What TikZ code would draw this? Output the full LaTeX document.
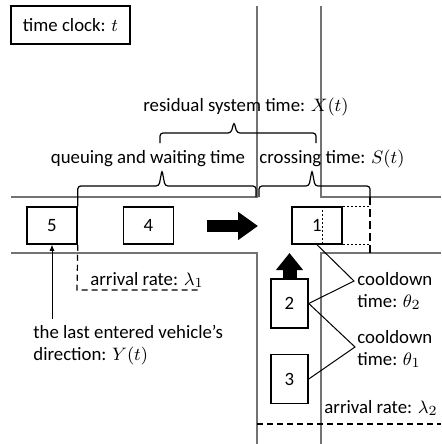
\documentclass[tikz,border=0pt]{standalone}
\usepackage{fontspec}
\setmainfont{Carlito}
\usetikzlibrary{calc, positioning, arrows.meta}

\begin{document}
\begin{tikzpicture}[x=0.5pt, y=-0.5pt, >=Stealth, node distance=22.5pt, every node/.style={font=\fontsize{9.4}{11}\selectfont, inner sep=0pt}]
  \tikzset{car/.style={draw, line width=0.75pt, minimum width=25pt, minimum height=18.5pt},
    carv/.style={car, minimum width=18.5pt, minimum height=24.5pt},
    road/.style={draw=black!55, line width=1pt},
    brace/.style={line width=0.6pt, rounded corners=1.5pt},
    rate/.style={line width=0.6pt, dash pattern=on 3pt off 2pt},
    ghost/.style={line width=0.4pt, dash pattern=on 1pt off 1pt}}
  \useasboundingbox (0,0) rectangle (441,444);

  % road edges
  \draw[road] (11,197) -- (257,197) -- (257,6);
  \draw[road] (321,6) -- (321,197) -- (441,197);
  \draw[road] (11,253) -- (257,253) -- (257,444);
  \draw[road] (441,253) -- (321,253) -- (321,444);

  \node[draw, line width=0.75pt, minimum width=59.5pt, minimum height=19pt] (clock) at (70.5,25) {time clock: $t$};

  \node[car] (v5) at (52,225.5) {5};
  \node[car, right=of v5] (v4) {4};
  \node[car] (v1) at (317,225.5) {1};
  \node[carv] (v2) at (289.5,303.5) {2};
  \node[carv, below=12.5pt of v2] (v3) {3};

  \coordinate (east) at (207,226);
  \coordinate (mid) at (258,226);
  \coordinate (north) at (289.5,253);
  \draw[line width=6pt, -{Triangle[length=10pt, width=13.5pt]}] (east) -- (mid);
  \draw[line width=7pt, -{Triangle[length=8.5pt, width=13pt]}] (v2.north) -- (north);

  % space still held by vehicle 1
  \coordinate (exit) at (370,197);
  \draw[ghost] ([xshift=2.5pt]v1.north) -- ([xshift=2.5pt]v1.south);
  \draw[ghost] (v1.north east) -- (v1.north east -| exit) (v1.south east) -- (v1.south east -| exit);
  \draw[line width=1pt, dash pattern=on 4pt off 2pt] (exit) -- (370,253);

  \node[anchor=base] (resid) at (246,112) {residual system time: $X(t)$};
  \node[anchor=base] (queue) at (148,163) {queuing and waiting time};
  \node[anchor=base] (crossing) at (332,163) {crossing time: $S(t)$};
  \draw[brace] (160,143) |- (231,133) -- (234,122) -- (237,133) -| (316,143);
  \draw[brace] (v5.north east) |- (159,186) -- (162,170) -- (165,186) -| (256,197);
  \draw[brace] (259,197) |- (309,186) -- (312,170) -- (315,186) -| (exit);

  \draw[rate] (v5.south east) -- (77,290) -- (200,290);
  \node[anchor=base west] (rate1) at (90,285) {arrival rate: $\lambda_1$};
  \draw[rate] (257,424) -- (441,424);
  \node[anchor=base east] (rate2) at (438,413) {arrival rate: $\lambda_2$};

  % base of a multi-line node sits on its last line
  \node[anchor=base west, align=left] (lastdir) at (33,360) {the last entered vehicle's\\direction: $Y(t)$};
  \draw[{Latex[length=3pt, width=2.5pt]}-, shorten >=2.5pt] (v5.south) -- (v5.south |- lastdir.north);

  \coordinate (tip2) at (354,281);
  \coordinate (tip1) at (355,347);
  \node[anchor=base west, align=left] (cool2) at (357,307) {cooldown\\time: $\theta_2$};
  \node[anchor=base west, align=left] (cool1) at (357,365) {cooldown\\time: $\theta_1$};
  \draw[line width=0.5pt] (v1.south) -- (tip2) -- (v2.east);
  \draw[line width=0.5pt] (v2.east) -- (tip1) -- (v3.east);
\end{tikzpicture}
\end{document}
